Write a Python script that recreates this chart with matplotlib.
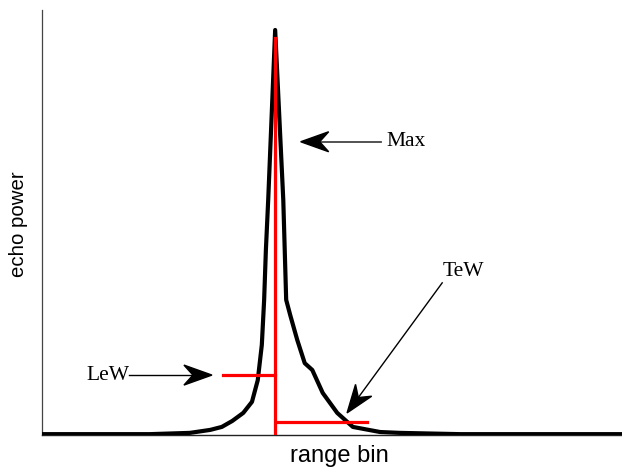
import numpy as np
import matplotlib
matplotlib.use('Agg')
import matplotlib.pyplot as plt
from matplotlib.patches import Polygon

# forma de onda (range bin x potência normalizada)
range_bin = [0, 18.6, 25.5, 29.0, 31.0, 32.8, 34.7, 36.2, 37.2, 37.9, 38.3, 38.6,
             39.0, 40.2, 41.6, 42.1, 42.8, 44.0, 45.3, 46.6, 48.4, 50.9, 53.6,
             58.3, 61.7, 72.1, 100]
echo_power = [0.002, 0.002, 0.005, 0.012, 0.019, 0.033, 0.052, 0.078, 0.129,
              0.212, 0.318, 0.435, 0.553, 0.953, 0.553, 0.318, 0.282, 0.224,
              0.169, 0.153, 0.099, 0.052, 0.019, 0.007, 0.005, 0.002, 0.002]

# marcadores
max_bin = 40.2
max_top = 0.934
lew_level = 0.141
lew_start = 31.2
tew_level = 0.031
tew_start = 40.5
tew_end = 56.0

fig = plt.figure(figsize=(6.22, 4.68), dpi=100)
ax = fig.add_axes([42/622, 33/468, 580/622, 425/468])
ax.set_xlim(0, 100)
ax.set_ylim(0, 1)
ax.spines['top'].set_visible(False)
ax.spines['right'].set_visible(False)
ax.spines['left'].set_color('#444444')
ax.spines['bottom'].set_color('#222222')
ax.spines['left'].set_linewidth(0.9)
ax.spines['bottom'].set_linewidth(1.0)
ax.set_xticks([])
ax.set_yticks([])

ax.plot(range_bin, echo_power, color='black', lw=3.0, solid_joinstyle='round',
        solid_capstyle='round', zorder=3)
ax.plot([max_bin, max_bin], [0, max_top], color='red', lw=2.3, zorder=4)
ax.plot([lew_start, max_bin], [lew_level, lew_level], color='red', lw=2.3, zorder=4)
ax.plot([tew_start, tew_end], [tew_level, tew_level], color='red', lw=2.3, zorder=4)

serif = 'Liberation Serif'


def seta(x0, y0, x1, y1, cor='black', lw=1.0):
    """Desenha seta com ponta entalhada de (x0,y0) até (x1,y1) em dados."""
    p0 = ax.transData.transform((x0, y0))
    p1 = ax.transData.transform((x1, y1))
    u = (p1 - p0) / np.hypot(*(p1 - p0))
    n = np.array([-u[1], u[0]])
    L, W, notch = 28, 10, 9
    pts = [p1, p1 - L * u + W * n, p1 - (L - notch) * u, p1 - L * u - W * n]
    inv = ax.transData.inverted()
    pts_d = inv.transform(np.array(pts))
    base = inv.transform(p1 - (L - notch) * u)
    ax.plot([x0, base[0]], [y0, base[1]], color=cor, lw=lw, zorder=5)
    ax.add_patch(Polygon(pts_d, closed=True, color='black', zorder=6))


# Max
ax.text(59.3, 0.690, 'Max', fontsize=15.5, family=serif, va='center', ha='left')
seta(58.4, 0.690, 44.6, 0.690, cor='#444444', lw=1.3)
# LeW
ax.text(7.6, 0.141, 'LeW', fontsize=15.5, family=serif, va='center', ha='left')
seta(15.0, 0.141, 29.3, 0.141)
# TeW
ax.text(69.1, 0.385, 'TeW', fontsize=15.5, family=serif, va='center', ha='left')
seta(69.0, 0.358, 52.6, 0.052)

fig.text(19/622, 1 - 224/468, 'echo power', rotation=90, fontsize=14.7,
         family='Liberation Sans', ha='center', va='center')
fig.text(339/622, 1 - 456/468, 'range bin', fontsize=17,
         family='Liberation Sans', ha='center', va='center')

fig.savefig('out.png', dpi=100)
